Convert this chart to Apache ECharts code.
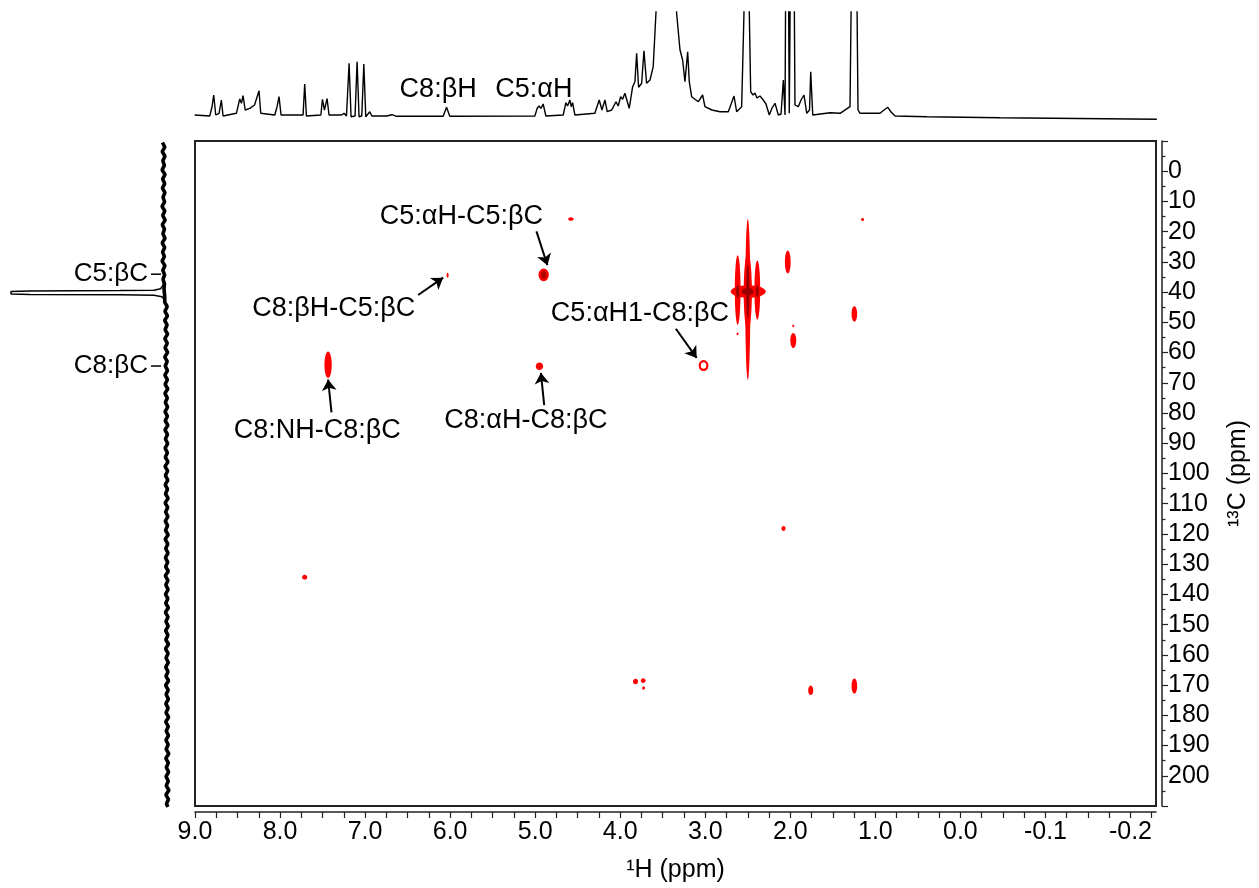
<!DOCTYPE html>
<html><head><meta charset="utf-8">
<script src="https://cdn.jsdelivr.net/npm/echarts@6/dist/echarts.min.js"></script>
<style>html,body{margin:0;padding:0;background:#fff}#c{width:1259px;height:888px}</style>
</head><body><div id="c"></div>
<script>
// ---------- data ----------
const xTickValues = [9, 8, 7, 6, 5, 4, 3, 2, 1, 0, -1, -2];
const xTickLabels = ['9.0','8.0','7.0','6.0','5.0','4.0','3.0','2.0','1.0','0.0','-0.1','-0.2'];
const xMinorTicks = [9,8.75,8.5,8.25,8,7.75,7.5,7.25,7,6.75,6.5,6.25,6,5.75,5.5,5.25,5,4.75,4.5,4.25,4,3.75,3.5,3.25,3,2.75,2.5,2.25,2,1.75,1.5,1.25,1,0.75,0.5,0.25,0,-0.25,-0.5,-0.75,-1,-1.25,-1.5,-1.75,-2,-2.25];
const yTickLabels = [0,10,20,30,40,50,60,70,80,90,100,110,120,130,140,150,160,170,180,190,200];

// 1H projection trace: [ppm, intensity]
const protonTrace = [[9.004,5],[8.827,4],[8.80,13],[8.78,25],[8.756,5],[8.717,6.7],[8.69,20],[8.67,4],[8.513,6.7],[8.474,21],[8.454,16.7],[8.435,24.3],[8.41,10],[8.356,11.7],[8.30,15],[8.247,29.3],[8.227,6.7],[8.062,5],[8.035,13.3],[8.012,23.3],[7.988,5],[7.729,5],[7.71,36],[7.69,4],[7.52,5],[7.501,20.7],[7.478,10],[7.447,21.3],[7.424,5],[7.278,5],[7.247,6.7],[7.219,4],[7.188,56.7],[7.165,3.3],[7.118,4],[7.094,58.3],[7.071,3.3],[7.039,4],[7.015,56],[6.992,3.3],[6.945,8.3],[6.921,4],[6.748,4],[6.682,5.3],[6.631,3.7],[6.082,3.7],[6.042,12.7],[6.004,3.7],[5.004,4],[4.976,11.7],[4.953,14],[4.933,11.7],[4.906,16],[4.874,4],[4.67,5],[4.639,17.3],[4.619,14],[4.592,20],[4.576,13.3],[4.56,17.3],[4.533,5],[4.298,6.7],[4.247,20],[4.215,10],[4.18,20],[4.153,8.3],[4.10,10],[4.05,18.3],[4.024,14],[3.995,23.3],[3.972,20.7],[3.945,26.7],[3.894,11.7],[3.854,33.3],[3.827,38.3],[3.807,66.7],[3.784,32.7],[3.748,36.7],[3.721,69.3],[3.69,36.7],[3.65,40],[3.612,53.3],[3.58,106.7],[3.46,400],[3.337,106.7],[3.297,70],[3.266,60],[3.239,38.3],[3.207,68.3],[3.188,38.3],[3.16,23.3],[3.082,18.3],[3.031,25],[3.004,13.3],[2.921,10],[2.827,8.3],[2.729,8.3],[2.662,24],[2.631,8.3],[2.572,13.3],[2.545,106.7],[2.515,400],[2.482,106.7],[2.466,28.3],[2.439,25],[2.415,27],[2.392,22],[2.357,24],[2.318,20],[2.286,16],[2.247,5],[2.215,12],[2.18,16.7],[2.141,5],[2.109,6],[2.082,40],[2.062,5],[2.040,400],[2.012,6.7],[1.975,400],[1.945,15],[1.906,13.3],[1.874,20],[1.839,25],[1.807,6.7],[1.774,10],[1.76,48.3],[1.736,5],[1.533,7.3],[1.415,6.7],[1.298,13.3],[1.247,400],[1.204,10],[1.18,6.7],[0.945,6.7],[0.898,10],[0.854,12.7],[0.815,8],[0.768,4],[0.395,3.3],[-0.467,2.3],[-2.31,0.7]];

// 13C projection baseline (noise band): [ppm, intensity]
const carbonBaseline = [[-9.5,17.5],[-8,15.2],[-6.5,17.8],[-5,15.0],[-3.5,17.2],[-2,15.6],[-0.5,17.9],[1,14.9],[2.5,17.4],[4,15.3],[5.5,17.6],[7,15.1],[8.5,17.0],[10,15.4],[11.5,18.0],[13,15.2],[14.5,17.3],[16,14.8],[17.5,17.7],[19,15.5],[20.5,17.1],[22,15.0],[23.5,17.8],[25,15.3],[26.5,17.4],[28,15.6],[29.5,17.9],[31,15.1],[32.5,17.2],[34,15.4],[35.5,17.0],[37,15.5],[38.5,16.0],[41.5,15.2],
[43,15.3],[44.5,12.8],[46,15.1],[47.5,12.5],[49,15.4],[50.5,12.9],[52,14.9],[53.5,12.4],[55,15.2],[56.5,12.7],[58,15.0],[59.5,12.3],[61,15.3],[62.5,12.8],[64,14.8],[65.5,12.5],[67,15.2],[68.5,12.6],[70,14.9],[71.5,12.2],[73,15.1],[74.5,12.7],[76,14.7],[77.5,12.4],[79,15.0],[80.5,12.6],[82,14.8],[83.5,12.1],[85,15.1],[86.5,12.5],[88,14.6],[89.5,12.3],[91,14.9],[92.5,12.6],[94,14.7],[95.5,12.0],[97,15.0],[98.5,12.4],[100,14.6],[101.5,12.2],[103,14.8],[104.5,12.5],[106,14.5],[107.5,11.9],[109,14.9],[110.5,12.3],[112,14.4],[113.5,12.1],[115,14.7],[116.5,12.4],[118,14.5],[119.5,11.8],[121,14.8],[122.5,12.2],[124,14.3],[125.5,12.0],[127,14.6],[128.5,12.3],[130,14.4],[131.5,11.7],[133,14.7],[134.5,12.1],[136,14.2],[137.5,11.9],[139,14.5],[140.5,12.2],[142,14.3],[143.5,11.6],[145,14.6],[146.5,12.0],[148,14.1],[149.5,11.8],[151,14.4],[152.5,12.1],[154,14.2],[155.5,11.5],[157,14.5],[158.5,11.9],[160,14.0],[161.5,11.7],[163,14.3],[164.5,12.0],[166,14.1],[167.5,11.4],[169,14.4],[170.5,11.8],[172,13.9],[173.5,11.6],[175,14.2],[176.5,11.9],[178,14.0],[179.5,11.3],[181,14.3],[182.5,11.7],[184,13.8],[185.5,11.5],[187,14.1],[188.5,11.8],[190,13.9],[191.5,11.2],[193,14.2],[194.5,11.6],[196,13.7],[197.5,11.4],[199,14.0],[200.5,11.7],[202,13.8],[203.5,11.1],[205,14.1],[206.5,11.5],[208,13.6],[209,12.0]];
// 13C solvent (DMSO) line: [ppm, intensity]
const carbonSolventPeak = [[35.5,16],[37.5,17],[38.6,19.5],[39.1,26],[39.2,60],[39.3,150],[39.5,169],[39.9,171],[40.3,169],[40.5,150],[40.6,60],[40.7,26],[41.2,18],[42.5,15]];

// HMBC cross peaks: [1H ppm, 13C ppm, half width (1H ppm), half height (13C ppm)]
const crossPeaks = [
  [4.58,15.8,0.032,0.6],[1.15,16.0,0.018,0.5],[6.03,34.4,0.012,0.8],
  [2.50,42.4,0.030,26.6],[2.50,40.0,0.048,13.0],[2.619,39.3,0.034,11.5],[2.388,39.3,0.034,9.8],[2.495,39.8,0.206,2.1],
  [2.03,30.0,0.034,3.8],[1.965,56.0,0.035,2.5],[1.965,51.2,0.012,0.4],[1.247,47.2,0.033,2.5],[2.62,53.8,0.012,0.45],
  [4.95,64.5,0.043,1.25],[7.435,64.0,0.043,4.4],[7.71,134.3,0.03,0.8],[2.08,118.2,0.024,0.8],
  [3.82,168.8,0.03,0.9],[3.73,168.5,0.028,0.8],[3.725,171.0,0.018,0.5],[1.76,171.7,0.03,1.6],[1.247,170.3,0.033,2.5]
];
const solventCore = [[2.50,39.8,0.07,1.2],[2.50,39.8,0.02,9],[2.619,39.8,0.018,2.2],[2.388,39.8,0.018,2.0]];
const darkRingPeaks = [[4.90,34.3,0.046,1.7]];
const openRingPeaks = [[3.02,64.3,0.045,1.45]];

// annotations (data coordinates)
const peakLabels = [
  ['C5:αH-C5:βC', 5.868, 15.1],
  ['C8:βH-C5:βC', 7.368, 45.3],
  ['C5:αH1-C8:βC', 3.768, 47.0],
  ['C8:NH-C8:βC', 7.562, 85.7],
  ['C8:αH-C8:βC', 5.109, 82.4]
];
const peakArrows = [
  [4.985,19.9,4.856,31.1],
  [6.376,40.95,6.082,35.2],
  [3.346,52.1,3.101,61.75],
  [7.395,79.8,7.435,68.9],
  [4.894,77.4,4.933,66.7]
];
const protonLabels = [['C8:βH',6.141,30],['C5:αH',5.015,30]];
const carbonLabels = [['C5:βC',33.8],['C8:βC',64.0]];

// ---------- chart ----------
const FONT = '"Liberation Sans", Arial, sans-serif';
const chart = echarts.init(document.getElementById('c'), null, {renderer:'canvas'});

function ellipseRender(fill, stroke, lw) {
  return function (params, api) {
    const c = api.coord([api.value(0), api.value(1)]);
    const s = api.size([api.value(2), api.value(3)]);
    return {type:'ellipse', shape:{cx:c[0], cy:c[1], rx:Math.max(s[0],1), ry:Math.max(s[1],1)},
      style:{fill:fill, stroke:stroke || null, lineWidth:lw || 0}};
  };
}

const option = {
  animation:false,
  backgroundColor:'#fff',
  grid:[
    {left:195, top:141, width:961, height:669, show:true, borderColor:'#222', borderWidth:2, backgroundColor:'transparent', containLabel:false},
    {left:195, top:12, width:961, height:108, show:false, containLabel:false},
    {left:0, top:141, width:180, height:669, show:false, containLabel:false}
  ],
  xAxis:[
    {gridIndex:0, type:'value', min:-2.3, max:9, inverse:true, position:'bottom', offset:6,
     axisLine:{show:true, onZero:false, lineStyle:{color:'#222', width:1.5}},
     axisTick:{show:true, customValues:xMinorTicks, length:6, lineStyle:{color:'#222', width:1.2}},
     axisLabel:{show:true, customValues:xTickValues, margin:8, fontSize:25, fontFamily:FONT, color:'#000',
       formatter:function(v){ const i = xTickValues.indexOf(Math.round(v)); return i>=0 ? xTickLabels[i] : ''; }},
     splitLine:{show:false},
     name:'¹H (ppm)', nameLocation:'middle', nameGap:46,
     nameTextStyle:{fontSize:25, fontFamily:FONT, color:'#000'}},
    {gridIndex:1, type:'value', min:-2.3, max:9, inverse:true, show:false},
    {gridIndex:2, type:'value', min:0, max:180, inverse:true, show:false}
  ],
  yAxis:[
    {gridIndex:0, type:'value', min:-10, max:210, interval:10, inverse:true, position:'right', offset:6,
     axisLine:{show:true, onZero:false, lineStyle:{color:'#222', width:1.5}},
     axisTick:{show:true, length:6, lineStyle:{color:'#222', width:1.2}},
     minorTick:{show:true, splitNumber:2, length:3.5, lineStyle:{color:'#222', width:1.2}},
     axisLabel:{show:true, margin:6, fontSize:25, fontFamily:FONT, color:'#000',
       formatter:function(v){ return yTickLabels.indexOf(v)>=0 ? String(v) : ''; }},
     splitLine:{show:false}, minorSplitLine:{show:false},
     name:'¹³C (ppm)', nameLocation:'middle', nameGap:64, nameRotate:90,
     nameTextStyle:{fontSize:25, fontFamily:FONT, color:'#000'}},
    {gridIndex:1, type:'value', min:0, max:108, show:false},
    {gridIndex:2, type:'value', min:-10, max:210, inverse:true, show:false}
  ],
  series:[
    // 1H projection
    {type:'line', xAxisIndex:1, yAxisIndex:1, data:protonTrace, showSymbol:false, clip:true,
     lineStyle:{color:'#000', width:1.4}, silent:true},
    // 13C projection
    {type:'line', xAxisIndex:2, yAxisIndex:2, data:carbonBaseline.map(d=>[d[1],d[0]]), showSymbol:false,
     lineStyle:{color:'#000', width:3.6}, silent:true},
    {type:'line', xAxisIndex:2, yAxisIndex:2, data:carbonSolventPeak.map(d=>[d[1],d[0]]), showSymbol:false,
     lineStyle:{color:'#000', width:1.5}, silent:true},
    // cross peaks
    {type:'custom', xAxisIndex:0, yAxisIndex:0, data:crossPeaks, renderItem:ellipseRender('#ff0000'), silent:true, z:3},
    {type:'custom', xAxisIndex:0, yAxisIndex:0, data:solventCore, renderItem:ellipseRender('#9a0000'), silent:true, z:4},
    {type:'custom', xAxisIndex:0, yAxisIndex:0, data:darkRingPeaks, renderItem:ellipseRender('#b00000','#ff0000',2.5), silent:true, z:4},
    {type:'custom', xAxisIndex:0, yAxisIndex:0, data:openRingPeaks, renderItem:ellipseRender('#ffffff','#ff0000',2.2), silent:true, z:4},
    // arrows
    {type:'lines', coordinateSystem:'cartesian2d', xAxisIndex:0, yAxisIndex:0, silent:true, z:5,
     symbol:['none','arrow'], symbolSize:11,
     lineStyle:{color:'#000', width:2, opacity:1},
     data:peakArrows.map(a=>({coords:[[a[0],a[1]],[a[2],a[3]]]}))},
    // peak labels
    {type:'custom', xAxisIndex:0, yAxisIndex:0, data:peakLabels.map(d=>[d[1],d[2]]), silent:true, z:6,
     renderItem:function(params, api){
       const c = api.coord([api.value(0), api.value(1)]);
       return {type:'text', x:c[0], y:c[1], style:{text:peakLabels[params.dataIndex][0], fontSize:27, fontFamily:FONT, fill:'#000', align:'center', verticalAlign:'middle'}};
     }},
    // 1H projection labels
    {type:'custom', xAxisIndex:1, yAxisIndex:1, data:protonLabels.map(d=>[d[1],d[2]]), silent:true, z:6,
     renderItem:function(params, api){
       const c = api.coord([api.value(0), api.value(1)]);
       return {type:'text', x:c[0], y:c[1], style:{text:protonLabels[params.dataIndex][0], fontSize:27, fontFamily:FONT, fill:'#000', align:'center', verticalAlign:'middle'}};
     }},
    // 13C projection labels with tick marks
    {type:'custom', xAxisIndex:2, yAxisIndex:2, data:carbonLabels.map(d=>[d[1]]), silent:true, z:6,
     renderItem:function(params, api){
       const ppm = carbonLabels[params.dataIndex][1];
       const a = api.coord([29, ppm]);
       const b = api.coord([19, ppm]);
       const t = api.coord([32, ppm]);
       return {type:'group', children:[
         {type:'line', shape:{x1:a[0], y1:a[1], x2:b[0], y2:b[1]}, style:{stroke:'#000', lineWidth:1.5}},
         {type:'text', x:t[0], y:t[1], style:{text:carbonLabels[params.dataIndex][0], fontSize:26, fontFamily:FONT, fill:'#000', align:'right', verticalAlign:'middle'}}
       ]};
     }}
  ]
};
chart.setOption(option);
</script>
</body></html>
